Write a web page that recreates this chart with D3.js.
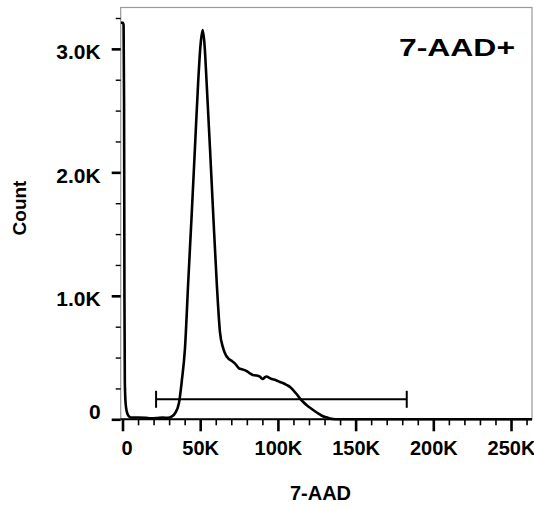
<html>
  <head>
    <script src="https://d3js.org/d3.v7.min.js"></script>
    <style>
      body { margin: 0; background: white; }
      text { font-family: "Liberation Sans", Arial, sans-serif; font-weight: bold; fill: #000; }
    </style>
  </head>
  <body>
    <script type="text/javascript">
      // histogram outline (7-AAD value, event count)
      var binValue = [-1160, 300, 700, 1000, 1250, 1500, 2000, 2800, 4000, 5500,
        10000, 15000, 18000, 22000, 26000, 29400, 31500, 33800, 36300, 38100,
        40200, 42300, 44500, 46600, 48700, 50200, 51600, 52800, 54100, 56300,
        58400, 60600, 62700, 64800, 66500, 68000, 70000, 72300, 74900, 77000,
        79900, 82000, 83900, 86000, 88400, 90300, 91500, 92700, 94500, 96100,
        98500, 101300, 103500, 105600, 107800, 109800, 112000, 114100, 116300, 118400,
        120500, 122700, 125000, 127000, 129000, 131300, 133500, 135500, 138000, 263500];
      var binCount = [3211, 3211, 3190, 2600, 1000, 300, 130, 60, 25, 14,
        14, 12, 8, 10, 14, 12, 22, 49, 130, 304,
        575, 1114, 1654, 2194, 2734, 3031, 3152, 3031, 2734, 2194,
        1654, 1114, 709, 575, 520, 494, 475, 453, 413, 405,
        391, 372, 359, 355, 345, 326, 340, 347, 335, 326,
        318, 302, 292, 278, 262, 237, 205, 170, 140, 116,
        95, 75, 55, 39, 25, 16, 7, 2, 0, 0];

      var xTicks = [0, 50000, 100000, 150000, 200000, 250000];
      var xTickLabels = ["0", "50K", "100K", "150K", "200K", "250K"];
      var yTicks = [0, 1000, 2000, 3000];
      var yTickLabels = ["0", "1.0K", "2.0K", "3.0K"];

      // gate marker
      var gateStart = 21600;
      var gateEnd = 182900;
      var gateLevel = 162;

      var title = "7-AAD+";
      var xTitle = "7-AAD";
      var yTitle = "Count";

      var width = 534;
      var height = 508;
      var plotLeft = 120.7, plotRight = 532, plotTop = 7.5, plotBottom = 419.3;

      var svg = d3.select("body").append("svg")
        .attr("width", width)
        .attr("height", height);

      var x = d3.scaleLinear()
        .domain([-1160, 263500])
        .range([plotLeft, plotRight]);

      var y = d3.scaleLinear()
        .domain([0, 3335])
        .range([plotBottom, plotTop]);

      // frame
      svg.append("rect")
        .attr("x", plotLeft)
        .attr("y", plotTop)
        .attr("width", plotRight - plotLeft)
        .attr("height", plotBottom - plotTop)
        .attr("fill", "none")
        .attr("stroke", "#999")
        .attr("stroke-width", 1.2);

      svg.append("defs").append("clipPath")
        .attr("id", "plotClip")
        .append("rect")
        .attr("x", plotLeft)
        .attr("y", plotTop)
        .attr("width", plotRight - plotLeft)
        .attr("height", plotBottom - plotTop + 2);

      var data = binValue.map(function (v, i) { return {v: v, c: binCount[i]}; });

      var line = d3.line()
        .x(d => x(d.v))
        .y(d => y(d.c))
        .curve(d3.curveMonotoneX);

      svg.append("path")
        .datum(data)
        .attr("clip-path", "url(#plotClip)")
        .attr("fill", "none")
        .attr("stroke", "#000")
        .attr("stroke-width", 2.6)
        .attr("stroke-linejoin", "round")
        .attr("d", line);

      // gate
      var gate = svg.append("g")
        .attr("stroke", "#000")
        .attr("stroke-width", 2);
      gate.append("line")
        .attr("x1", x(gateStart)).attr("x2", x(gateEnd))
        .attr("y1", y(gateLevel)).attr("y2", y(gateLevel));
      [gateStart, gateEnd].forEach(function (g) {
        gate.append("line")
          .attr("x1", x(g)).attr("x2", x(g))
          .attr("y1", y(gateLevel) - 8.5).attr("y2", y(gateLevel) + 8.5);
      });

      // x axis
      var xMinor = d3.range(10000, 260001, 10000).filter(d => d % 50000 != 0);
      var xMinorG = svg.append("g")
        .attr("transform", "translate(0," + plotBottom + ")")
        .call(d3.axisBottom(x).tickValues(xMinor).tickSize(6).tickFormat(""));
      xMinorG.selectAll(".tick line").attr("stroke-width", 1.6);

      var xAxisG = svg.append("g")
        .attr("transform", "translate(0," + plotBottom + ")")
        .call(d3.axisBottom(x).tickValues(xTicks)
          .tickFormat((d, i) => xTickLabels[i])
          .tickSize(12).tickPadding(10));
      xAxisG.selectAll(".tick line").attr("stroke-width", 2.6);
      xAxisG.selectAll("text")
        .attr("font-size", "20px")
        .attr("font-family", null)
        .attr("dx", d => d == 0 ? 4 : 0);

      [xMinorG, xAxisG].forEach(g => g.select(".domain").remove());

      svg.append("line")
        .attr("x1", plotLeft).attr("x2", plotRight)
        .attr("y1", plotBottom).attr("y2", plotBottom)
        .attr("stroke", "#000")
        .attr("stroke-width", 2);

      // y axis
      var yMinor = d3.range(250, 3251, 250).filter(d => d % 1000 != 0);
      var yMinorG = svg.append("g")
        .attr("transform", "translate(" + plotLeft + ",0)")
        .call(d3.axisLeft(y).tickValues(yMinor).tickSize(5).tickFormat(""));
      yMinorG.selectAll(".tick line").attr("stroke-width", 1.4);

      var yAxisG = svg.append("g")
        .attr("transform", "translate(" + plotLeft + ",0)")
        .call(d3.axisLeft(y).tickValues(yTicks)
          .tickFormat((d, i) => yTickLabels[i])
          .tickSize(9).tickPadding(11));
      yAxisG.selectAll(".tick line").attr("stroke-width", 2.6);
      yAxisG.selectAll("text")
        .attr("font-size", "21px")
        .attr("dy", d => d == 0 ? "-0.04em" : "0.48em")
        .attr("font-family", null);

      [yMinorG, yAxisG].forEach(g => g.select(".domain").remove());

      // titles
      svg.append("text")
        .attr("x", 515)
        .attr("y", 56)
        .attr("text-anchor", "end")
        .attr("font-size", "24px")
        .attr("textLength", 116)
        .attr("lengthAdjust", "spacingAndGlyphs")
        .text(title);

      svg.append("text")
        .attr("x", 320.5)
        .attr("y", 500)
        .attr("text-anchor", "middle")
        .attr("font-size", "20px")
        .text(xTitle);

      svg.append("text")
        .attr("transform", "translate(25.5,208) rotate(-90)")
        .attr("text-anchor", "middle")
        .attr("font-size", "19px")
        .text(yTitle);
    </script>
  </body>
</html>
